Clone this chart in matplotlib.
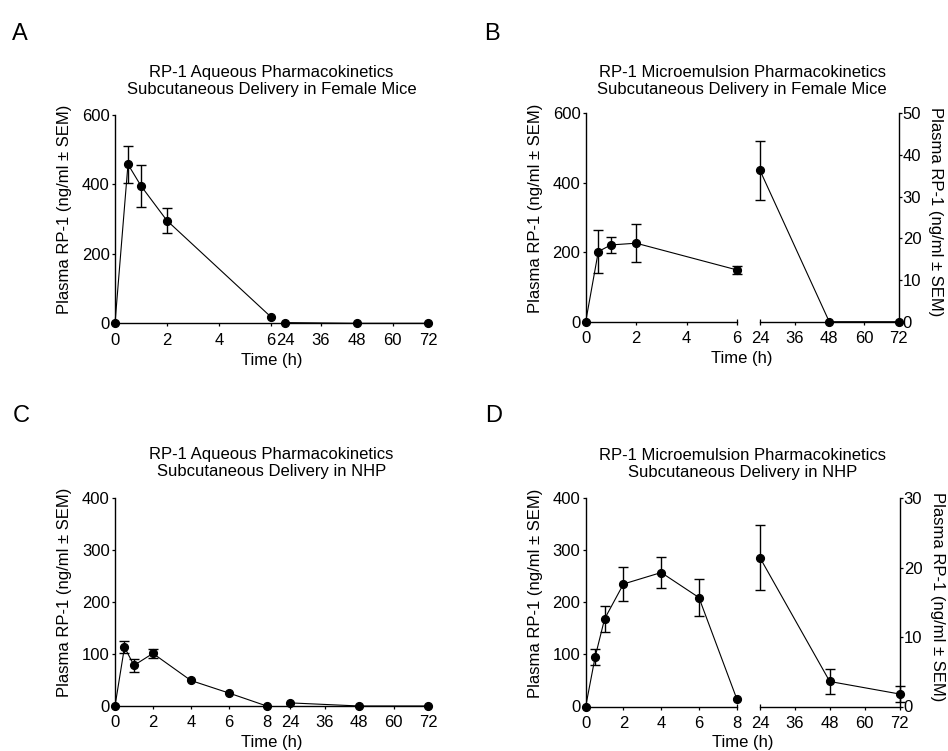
import numpy as np
import matplotlib
matplotlib.use("Agg")
import matplotlib.pyplot as plt

plt.rcParams['font.family'] = ['Liberation Sans', 'DejaVu Sans']
plt.rcParams['font.size'] = 12

# ---------------------------------------------------------------------------
# data
# ---------------------------------------------------------------------------
YLABEL = "Plasma RP-1 (ng/ml \u00b1 SEM)"

# A: aqueous, female mice
a_t_early = [0, 0.5, 1, 2, 6]
a_y_early = [0, 458, 396, 296, 19]
a_sem_early = [0, 53, 60, 35, 0]
a_t_late = [24, 48, 72]
a_y_late = [2, 0, 0]

# B: microemulsion, female mice (late points on right axis)
b_t_early = [0, 0.5, 1, 2, 6]
b_y_early = [0, 202, 221, 226, 149]
b_sem_early = [0, 61, 23, 55, 12]
b_t_late = [24, 48, 72]
b_y_late = [36.3, 0, 0]
b_sem_late = [7.0, 0, 0]

# C: aqueous, NHP
c_t_early = [0, 0.5, 1, 2, 4, 6, 8]
c_y_early = [0, 113, 78, 101, 49, 25, 0]
c_sem_early = [0, 11, 13, 8, 0, 0, 0]
c_t_late = [24, 48, 72]
c_y_late = [6, 0, 0]

# D: microemulsion, NHP (late points on right axis)
d_t_early = [0, 0.5, 1, 2, 4, 6, 8]
d_y_early = [0, 95, 168, 235, 257, 209, 15]
d_sem_early = [0, 16, 25, 32, 30, 35, 0]
d_t_late = [24, 48, 72]
d_y_late = [21.4, 3.6, 1.8]
d_sem_late = [4.7, 1.8, 1.1]

late_ticks = [24, 36, 48, 60, 72]

# ---------------------------------------------------------------------------
# helpers
# ---------------------------------------------------------------------------
W, H = 948, 751
fig = plt.figure(figsize=(W / 100, H / 100), dpi=100)


def add_ax(x0, x1, ytop, ybot):
  return fig.add_axes([x0 / W, 1 - ybot / H, (x1 - x0) / W, (ybot - ytop) / H])


def style(ax):
  for s in ax.spines.values():
    s.set_linewidth(1.0)
  ax.tick_params(width=0.9, length=2.3, color='k', labelsize=12)
  ax.tick_params(axis='x', pad=4.5)
  ax.tick_params(axis='y', pad=1.5)


def series(ax, t, y, sem=None):
  t, y = np.asarray(t, float), np.asarray(y, float)
  ax.plot(t, y, '-', color='k', lw=0.8, clip_on=False, zorder=3)
  if sem is not None:
    sem = np.asarray(sem, float)
    m = sem > 0
    ax.errorbar(t[m], y[m], yerr=sem[m], fmt='none', ecolor='k',
                elinewidth=1.0, capsize=3.3, capthick=1.0, clip_on=False,
                zorder=3)
  ax.plot(t, y, 'o', color='k', ms=5.6, clip_on=False, zorder=4)


def texts(letter, lx, lbase, title, x0, x1, title_bottom, xlabel_base):
  fig.text(lx / W, 1 - lbase / H, letter, fontsize=17, va='baseline')
  fig.text((x0 + x1) / 2 / W, 1 - title_bottom / H, title, ha='center',
           va='bottom', fontsize=12, linespacing=1.2)
  fig.text((x0 + x1) / 2 / W, 1 - xlabel_base / H, "Time (h)", ha='center',
           va='baseline', fontsize=12)


def broken_single(x0, x1, ytop, ybot, t_break, px_unit, gap_px, late_px,
                  ymax, ystep):
  ax = add_ax(x0, x1, ytop, ybot)
  gap = gap_px / px_unit
  span = late_px / px_unit
  xp = [0, t_break, 24, 72]
  fp = [0, t_break, t_break + gap, t_break + gap + span]
  ax.set_xscale('function', functions=(lambda v: np.interp(v, xp, fp),
                                       lambda p: np.interp(p, fp, xp)))
  ax.set_xlim(0, 72)
  ax.set_ylim(0, ymax)
  early_ticks = list(range(0, t_break + 1, 2))
  ax.set_xticks(early_ticks + late_ticks)
  ax.set_xticklabels([str(v) for v in early_ticks + late_ticks])
  ax.set_yticks(np.arange(0, ymax + 1, ystep))
  ax.spines['top'].set_visible(False)
  ax.spines['right'].set_visible(False)
  style(ax)
  ax.set_ylabel(YLABEL)
  ax.yaxis.set_label_coords(-43 / (x1 - x0), 0.545)
  return ax


def broken_dual(x0, xb, xr, x1, ytop, ybot, t_break, ymax, ystep, rmax,
                rstep):
  axl = add_ax(x0, xb, ytop, ybot)
  axr = add_ax(xr, x1, ytop, ybot)
  axl.set_xlim(0, t_break)
  axl.set_ylim(0, ymax)
  axl.set_xticks(list(range(0, t_break, 2)))
  axl.set_xticks([t_break], labels=[str(t_break)], minor=True)
  axl.set_yticks(np.arange(0, ymax + 1, ystep))
  axl.spines['top'].set_visible(False)
  axl.spines['right'].set_visible(False)
  axr.set_xlim(24, 72)
  axr.set_ylim(0, rmax)
  axr.set_xticks(late_ticks[1:])
  axr.set_xticks([24], labels=['24'], minor=True)
  axr.set_yticks(np.arange(0, rmax + 1, rstep))
  axr.spines['top'].set_visible(False)
  axr.spines['left'].set_visible(False)
  axr.yaxis.tick_right()
  axr.yaxis.set_label_position('right')
  for a in (axl, axr):
    style(a)
    a.tick_params(axis='x', which='minor', direction='inout', length=4.2,
                  width=0.9, labelsize=12, pad=4.5)
  axr.tick_params(axis='y', pad=0.8)
  axl.set_ylabel(YLABEL)
  axl.yaxis.set_label_coords(-43 / (xb - x0), 0.545)
  axr.set_ylabel(YLABEL, rotation=270, va='bottom')
  axr.yaxis.set_label_coords(1 + 30 / (x1 - xr), 0.527)
  return axl, axr


# ---------------------------------------------------------------------------
# A
# ---------------------------------------------------------------------------
ax = broken_single(115, 428.3, 115, 323.3, 6, 155.7 / 6, 14.6, 143.0, 600, 200)
series(ax, a_t_early, a_y_early, a_sem_early)
series(ax, a_t_late, a_y_late)
texts("A", 11.5, 40, "RP-1 Aqueous Pharmacokinetics\n"
      "Subcutaneous Delivery in Female Mice", 115, 428.3, 97, 365)

# ---------------------------------------------------------------------------
# B
# ---------------------------------------------------------------------------
axl, axr = broken_dual(585.7, 737, 760, 898.5, 113.3, 321.7, 6, 600, 200,
                       50, 10)
series(axl, b_t_early, b_y_early, b_sem_early)
series(axr, b_t_late, b_y_late, b_sem_late)
texts("B", 484, 39.5, "RP-1 Microemulsion Pharmacokinetics\n"
      "Subcutaneous Delivery in Female Mice", 585.7, 898.5, 97, 362.7)

# ---------------------------------------------------------------------------
# C
# ---------------------------------------------------------------------------
ax = broken_single(115, 428.3, 497.7, 706, 8, 151.7 / 8, 23.3, 138.3, 400, 100)
series(ax, c_t_early, c_y_early, c_sem_early)
series(ax, c_t_late, c_y_late)
texts("C", 13, 421.5, "RP-1 Aqueous Pharmacokinetics\n"
      "Subcutaneous Delivery in NHP", 115, 428.3, 479, 746.7)

# ---------------------------------------------------------------------------
# D
# ---------------------------------------------------------------------------
axl, axr = broken_dual(585.7, 736.7, 760, 899.5, 498, 706.5, 8, 400, 100,
                       30, 10)
series(axl, d_t_early, d_y_early, d_sem_early)
series(axr, d_t_late, d_y_late, d_sem_late)
texts("D", 485.5, 422.5, "RP-1 Microemulsion Pharmacokinetics\n"
      "Subcutaneous Delivery in NHP", 585.7, 899.5, 480, 747)

fig.savefig("out.png", dpi=100)
